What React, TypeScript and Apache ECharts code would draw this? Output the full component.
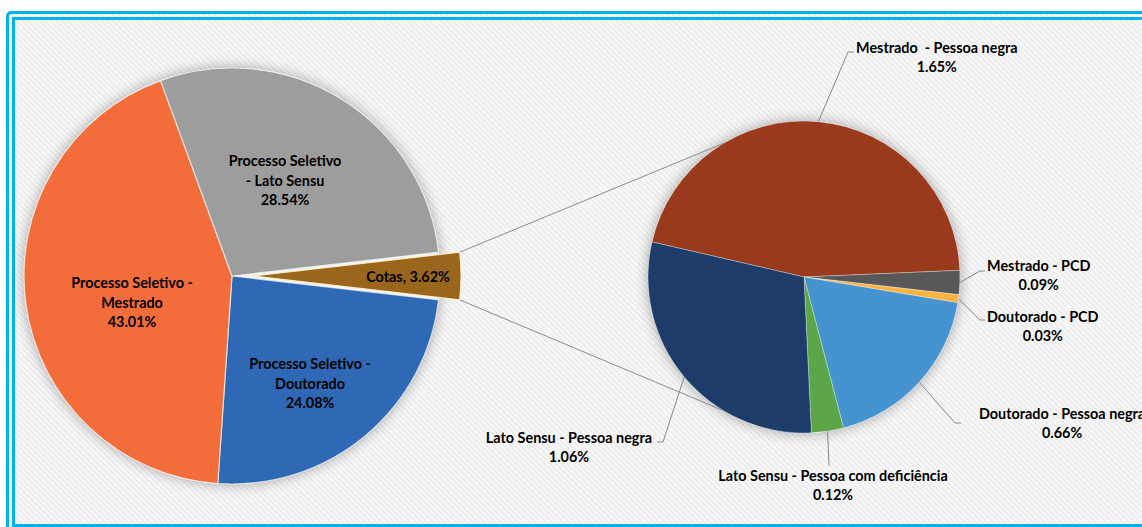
import React, { useEffect, useRef } from 'react';
import * as echarts from 'echarts';

// ---- data ----
const mainCategories = [
  'Cotas',
  'Processo Seletivo -\nDoutorado',
  'Processo Seletivo -\nMestrado',
  'Processo Seletivo\n- Lato Sensu',
];
const mainValues = [3.62, 24.08, 43.01, 28.54];

const quotaCategories = [
  'Mestrado  - Pessoa negra',
  'Mestrado - PCD',
  'Doutorado - PCD',
  'Doutorado - Pessoa negra',
  'Lato Sensu - Pessoa com deficiência',
  'Lato Sensu - Pessoa negra',
];
const quotaValues = [1.65, 0.09, 0.03, 0.66, 0.12, 1.06];

// ---- styles / layout ----
const MAIN_COLORS = ['#99661C', '#2F69B5', '#F26D3A', '#9D9D9D'];
const QUOTA_COLORS = ['#983A1B', '#585858', '#FBB342', '#4593CF', '#5CA64A', '#1D3C69'];

const LEFT = { cx: 232, cy: 276, r: 208, offset: 21 };
const RIGHT = { cx: 804, cy: 277, r: 156, startAngle: 167, connAngle: 121 };

const MAIN_LABEL_POS: [number, number][] = [
  [409, 277],
  [310, 383],
  [132, 302],
  [285, 180],
];
// the selected (exploded) slice keeps its own label position in the select state,
// so its text is shifted with left padding instead
const COTAS_LABEL_PAD_LEFT = 96;

const QUOTA_LABEL_POS: { x: number; y: number; align: string }[] = [
  { x: 856, y: 57, align: 'left' },
  { x: 987, y: 275, align: 'left' },
  { x: 987, y: 326, align: 'left' },
  { x: 979, y: 423, align: 'left' },
  { x: 833, y: 485, align: 'center' },
  { x: 652, y: 447, align: 'right' },
];
const QUOTA_LINE_PTS: [number, number][][] = [
  [[848, 52], [854, 52]],
  [[980, 271], [985, 271]],
  [[980, 320], [985, 320]],
  [[955, 423], [961, 423]],
  [[829, 466], [829, 466]],
  [[663, 442], [657, 442]],
];

const FONT = 'Lato, "Open Sans", sans-serif';
const FS = 14.4;
const LH = 19.5;
const TEXT_COLOR = '#000';

export default function App() {
  const ref = useRef<HTMLDivElement>(null);

  useEffect(() => {
    document.body.style.margin = '0';
    const chart = echarts.init(ref.current!, null, { renderer: 'svg' });

    const mainTotal = mainValues.reduce((a, b) => a + b, 0);
    const cotasHalfDeg = (mainValues[0] / mainTotal) * 180;
    const half = (cotasHalfDeg * Math.PI) / 180;
    const cornerX = LEFT.cx + LEFT.offset + LEFT.r * Math.cos(half);
    const cornerTopY = LEFT.cy - LEFT.r * Math.sin(half);
    const cornerBotY = LEFT.cy + LEFT.r * Math.sin(half);
    const ca = (RIGHT.connAngle * Math.PI) / 180;
    const rx = RIGHT.cx + RIGHT.r * Math.cos(ca);
    const rTopY = RIGHT.cy - RIGHT.r * Math.sin(ca);
    const rBotY = RIGHT.cy + RIGHT.r * Math.sin(ca);

    const quotaTotal = quotaValues.reduce((a, b) => a + b, 0);
    const quotaEdge = (i: number) => {
      let before = 0;
      for (let k = 0; k < i; k++) before += quotaValues[k];
      const mid = RIGHT.startAngle - ((before + quotaValues[i] / 2) / quotaTotal) * 360;
      const m = (mid * Math.PI) / 180;
      return [RIGHT.cx + RIGHT.r * Math.cos(m), RIGHT.cy - RIGHT.r * Math.sin(m)];
    };

    const richT = {
      t: {
        align: 'center',
        fontFamily: FONT,
        fontSize: FS,
        fontWeight: 'bold',
        color: TEXT_COLOR,
        lineHeight: LH,
      },
    };

    const option: any = {
      animation: false,
      backgroundColor: 'transparent',
      graphic: [
        {
          type: 'circle',
          silent: true,
          z: 0,
          shape: { cx: LEFT.cx, cy: LEFT.cy, r: LEFT.r },
          style: { fill: '#f3f3f3', shadowBlur: 14, shadowColor: 'rgba(0,0,0,0.35)' },
        },
        {
          type: 'circle',
          silent: true,
          z: 0,
          shape: { cx: RIGHT.cx, cy: RIGHT.cy, r: RIGHT.r },
          style: { fill: '#f3f3f3', shadowBlur: 14, shadowColor: 'rgba(0,0,0,0.35)' },
        },
        {
          type: 'line',
          silent: true,
          z: 1,
          shape: { x1: cornerX, y1: cornerTopY, x2: rx, y2: rTopY },
          style: { stroke: '#8c8c8c', lineWidth: 1 },
        },
        {
          type: 'line',
          silent: true,
          z: 1,
          shape: { x1: cornerX, y1: cornerBotY, x2: rx, y2: rBotY },
          style: { stroke: '#8c8c8c', lineWidth: 1 },
        },
      ],
      series: [
        {
          type: 'pie',
          center: [LEFT.cx, LEFT.cy],
          radius: LEFT.r,
          startAngle: cotasHalfDeg,
          clockwise: true,
          selectedMode: 'single',
          selectedOffset: LEFT.offset,
          avoidLabelOverlap: false,
          emphasis: { disabled: true },
          itemStyle: { borderColor: 'rgba(255,255,255,0.65)', borderWidth: 1.2 },
          label: {
            show: true,
            position: 'inside',
            fontFamily: FONT,
            fontSize: FS,
            fontWeight: 'bold',
            color: TEXT_COLOR,
            lineHeight: LH,
            formatter: (p: any) =>
              p.dataIndex === 0
                ? `${p.name}, ${p.value.toFixed(2)}%`
                : `${p.name}\n${p.value.toFixed(2)}%`,
          },
          labelLine: { show: false },
          labelLayout: (params: any) => {
            const pos = MAIN_LABEL_POS[params.dataIndex];
            return { x: pos[0], y: pos[1], align: 'center', verticalAlign: 'middle' };
          },
          data: mainCategories.map((name, i) => ({
            name,
            value: mainValues[i],
            selected: i === 0,
            label: i === 0 ? { padding: [0, 0, 0, COTAS_LABEL_PAD_LEFT] } : undefined,
            itemStyle: {
              color: MAIN_COLORS[i],
              borderColor: i === 0 ? 'rgba(255,240,205,0.9)' : 'rgba(255,255,255,0.65)',
            },
          })),
        },
        {
          type: 'pie',
          center: [RIGHT.cx, RIGHT.cy],
          radius: RIGHT.r,
          startAngle: RIGHT.startAngle,
          clockwise: true,
          avoidLabelOverlap: false,
          emphasis: { disabled: true },
          itemStyle: { borderColor: 'rgba(255,255,255,0.45)', borderWidth: 0.7 },
          label: {
            show: true,
            position: 'outside',
            formatter: (p: any) => `{t|${p.name}}\n{t|${p.value.toFixed(2)}%}`,
            rich: richT,
            fontFamily: FONT,
            fontSize: FS,
            fontWeight: 'bold',
            color: TEXT_COLOR,
            lineHeight: LH,
          },
          labelLine: {
            show: true,
            length: 20,
            length2: 10,
            lineStyle: { color: '#888888', width: 1 },
          },
          labelLayout: (params: any) => {
            const i = params.dataIndex;
            const pos = QUOTA_LABEL_POS[i];
            const pts = QUOTA_LINE_PTS[i];
            const p0 =
              params.labelLinePoints && params.labelLinePoints[0]
                ? params.labelLinePoints[0]
                : quotaEdge(i);
            return {
              x: pos.x,
              y: pos.y,
              align: pos.align,
              verticalAlign: 'middle',
              labelLinePoints: [p0, pts[0], pts[1]],
            };
          },
          data: quotaCategories.map((name, i) => ({
            name,
            value: quotaValues[i],
            itemStyle: { color: QUOTA_COLORS[i] },
          })),
        },
      ],
    };

    chart.setOption(option);
    return () => chart.dispose();
  }, []);

  return (
    <div
      style={{
        position: 'relative',
        width: 1142,
        height: 527,
        overflow: 'hidden',
        background: '#ffffff',
      }}
    >
      <div
        style={{
          position: 'absolute',
          left: 6,
          top: 11,
          width: 1170,
          height: 522,
          boxSizing: 'border-box',
          border: '9px double #00B0F0',
          borderRadius: 5,
          backgroundClip: 'padding-box',
          background:
            'repeating-linear-gradient(45deg, #eeeeee 0px, #eeeeee 2px, #f8f8f8 2px, #f8f8f8 4px)',
        }}
      />
      <div
        ref={ref}
        style={{ position: 'absolute', left: 0, top: 0, width: 1142, height: 527 }}
      />
    </div>
  );
}
